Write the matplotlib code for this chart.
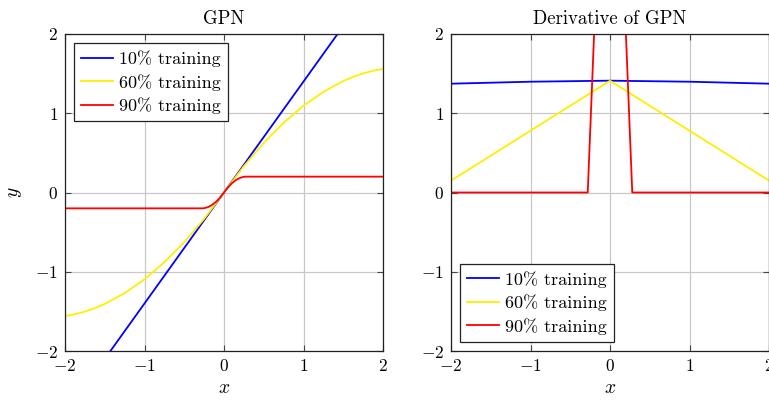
import matplotlib
matplotlib.use('Agg')
import matplotlib.pyplot as plt

plt.rcParams['font.family'] = 'serif'
plt.rcParams['font.serif'] = ['cmr10']
plt.rcParams['mathtext.fontset'] = 'cm'
plt.rcParams['axes.formatter.use_mathtext'] = True
plt.rcParams['font.size'] = 12.5

labels = ['10% training', '60% training', '90% training']
colors = ['#0000ff', '#ffee00', '#ff0000']

# GPN activations
x_blue = [-2, -1, 0, 1, 2]
y_blue = [-2.80, -1.40, 0.0, 1.40, 2.80]

x_yellow = [-2, -1.875, -1.75, -1.625, -1.5, -1.25, -1, -0.75, -0.5, -0.25, 0,
            0.25, 0.5, 0.75, 1, 1.25, 1.5, 1.625, 1.75, 1.875, 2]
y_yellow = [-1.560, -1.536, -1.503, -1.460, -1.406, -1.270, -1.095, -0.880,
            -0.626, -0.333, 0.0, 0.333, 0.626, 0.880, 1.095, 1.270, 1.406,
            1.460, 1.503, 1.536, 1.560]

x_red = [-2, -0.28, -0.25, -0.2, -0.15, -0.1, -0.05, 0,
         0.05, 0.1, 0.15, 0.2, 0.25, 0.28, 2]
y_red = [-0.2, -0.2, -0.198, -0.184, -0.157, -0.117, -0.065, 0.0,
         0.065, 0.117, 0.157, 0.184, 0.198, 0.2, 0.2]

# derivatives
dx_blue = [-2, -1, 0, 1, 2]
dy_blue = [1.373, 1.398, 1.411, 1.398, 1.373]

dx_yellow = [-2, 0, 2]
dy_yellow = [0.15, 1.41, 0.15]

dx_red = [-2, -0.28, 0, 0.28, 2]
dy_red = [0.0, 0.0, 7.0, 0.0, 0.0]

fig = plt.figure(figsize=(7.69, 4.0), dpi=100)
ax1 = fig.add_axes([65 / 769, 49 / 400, 318 / 769, 317 / 400])
ax2 = fig.add_axes([451 / 769, 49 / 400, 318 / 769, 317 / 400])

for ax in (ax1, ax2):
    ax.set_xlim(-2, 2)
    ax.set_ylim(-2, 2)
    ax.set_xticks([-2, -1, 0, 1, 2])
    ax.set_yticks([-2, -1, 0, 1, 2])
    ax.grid(True, color='#c8c8c8', linewidth=0.9)
    ax.set_axisbelow(True)
    ax.tick_params(direction='in', top=True, right=True, length=4,
                   color='#444444', labelsize=12.5, pad=5)
    for s in ax.spines.values():
        s.set_linewidth(0.9)
        s.set_color('#222222')
    ax.set_xlabel('$x$', fontsize=14, labelpad=4)

ax1.plot(x_blue, y_blue, color=colors[0], lw=1.3, label=labels[0])
ax1.plot(x_yellow, y_yellow, color=colors[1], lw=1.3, label=labels[1])
ax1.plot(x_red, y_red, color=colors[2], lw=1.3, label=labels[2])
ax1.set_title('GPN', fontsize=13.5, pad=7)
ax1.set_ylabel('$y$', fontsize=14, labelpad=8)

ax2.plot(dx_blue, dy_blue, color=colors[0], lw=1.3, label=labels[0])
ax2.plot(dx_yellow, dy_yellow, color=colors[1], lw=1.3, label=labels[1])
ax2.plot(dx_red, dy_red, color=colors[2], lw=1.3, label=labels[2])
ax2.set_title('Derivative of GPN', fontsize=13.5, pad=7)

for ax, loc in ((ax1, 'upper left'), (ax2, 'lower left')):
    leg = ax.legend(loc=loc, fancybox=False, edgecolor='#222222',
                    framealpha=1, borderaxespad=0.5, handlelength=1.75,
                    handletextpad=0.35, labelspacing=0.38, borderpad=0.4,
                    fontsize=13)
    leg.get_frame().set_linewidth(0.9)

fig.savefig('out.png', dpi=100)
